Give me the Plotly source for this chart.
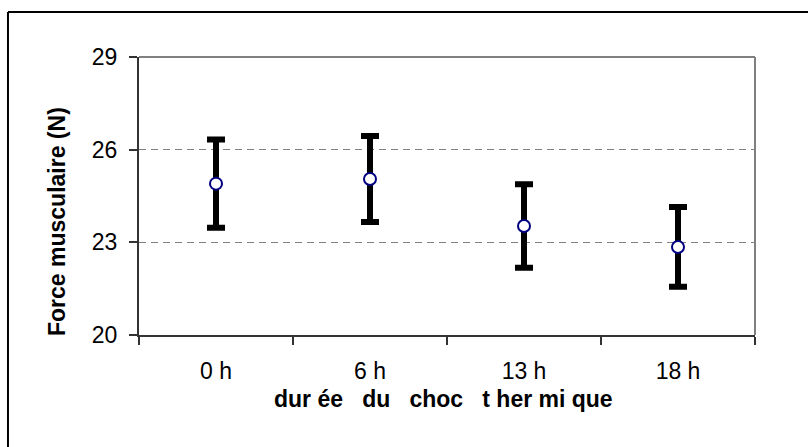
import plotly.graph_objects as go

# Mean muscle force with its spread, per heat-shock duration
durations = ["0 h", "6 h", "13 h", "18 h"]
force_mean = [24.9, 25.05, 23.53, 22.85]
force_err = [1.43, 1.39, 1.35, 1.29]

y_ticks = [20, 23, 26, 29]

FONT = "Liberation Sans, Arial, sans-serif"

fig = go.Figure()

fig.add_trace(go.Scatter(
    x=durations,
    y=force_mean,
    mode="markers",
    marker=dict(size=12, color="white", line=dict(color="#000080", width=2)),
    error_y=dict(type="data", array=force_err, visible=True,
                 color="black", thickness=6, width=9),
    showlegend=False,
))

# plot-area frame (grey top and right edges)
fig.add_shape(type="line", xref="paper", yref="paper", x0=0, y0=1, x1=1, y1=1,
              line=dict(color="#808080", width=2), layer="above")
fig.add_shape(type="line", xref="paper", yref="paper", x0=1, y0=0, x1=1, y1=1,
              line=dict(color="#808080", width=2), layer="above")

# outer chart border (left and top)
fig.add_shape(type="line", xref="paper", yref="paper",
              x0=-0.2127, y0=1.1619, x1=1.2, y1=1.1619,
              line=dict(color="black", width=2))
fig.add_shape(type="line", xref="paper", yref="paper",
              x0=-0.2127, y0=-0.5, x1=-0.2127, y1=1.1619,
              line=dict(color="black", width=2))

fig.add_annotation(text="<b>Force musculaire (N)</b>", xref="paper", yref="paper",
                   x=(57 - 139) / 616, y=(335 - 222) / 278, textangle=-90,
                   xanchor="center", yanchor="middle",
                   showarrow=False, font=dict(family=FONT, size=23, color="black"))
fig.add_annotation(text="<b>dur ée   du   choc   t her mi que</b>", xref="paper", yref="paper",
                   x=(443 - 139) / 616, y=(335 - 399) / 278,
                   xanchor="center", yanchor="middle",
                   showarrow=False, font=dict(family=FONT, size=23, color="black"))

fig.update_layout(
    width=808, height=447,
    margin=dict(l=139, r=53, t=57, b=112),
    paper_bgcolor="white", plot_bgcolor="white",
    font=dict(family=FONT, size=23, color="black"),
    xaxis=dict(
        type="category", tickson="boundaries", ticks="outside", ticklen=8,
        tickcolor="#333333", tickwidth=1.5,
        showline=True, linecolor="#333333", linewidth=2,
        showgrid=False, range=[-0.5, 3.5],
        tickfont=dict(size=23), ticklabelstandoff=14,
    ),
    yaxis=dict(
        range=[20, 29], tickvals=y_ticks, ticks="outside", ticklen=8,
        tickcolor="#333333", tickwidth=1.5,
        showline=True, linecolor="#333333", linewidth=2,
        showgrid=True, gridcolor="#808080", griddash="7px,5px", gridwidth=1,
        zeroline=False, tickfont=dict(size=23), ticklabelstandoff=7,
    ),
)

fig.write_html("out.html")
